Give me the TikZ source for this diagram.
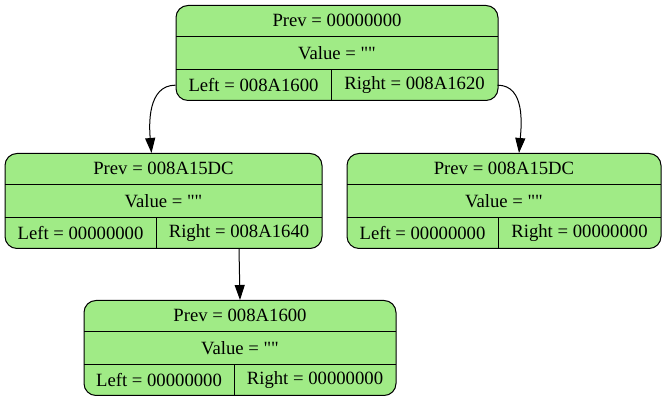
\documentclass[tikz,border=0pt]{standalone}
\usepackage{fontspec}
\setmainfont{Liberation Serif}[Ligatures=TeXOff]
\usepackage{tikz}
\usetikzlibrary{calc,arrows.meta}
\definecolor{recfill}{HTML}{A0EB86}
\definecolor{ink}{HTML}{000000}
\tikzset{
  rec/.style={draw=ink, fill=recfill, line width=1pt, rounded corners=12pt, minimum height=95pt, inner sep=0pt},
  cell/.style={inner sep=0pt, outer sep=0pt, minimum height=31.67pt, font=\fontsize{18.7}{22}\selectfont},
  sep/.style={draw=ink, line width=1pt},
  edge/.style={draw=ink, line width=1pt, -{Triangle[length=15pt, width=10pt]}},
}
% record: name, x, y, width, left cell width, prev, left, right
\newcommand{\record}[8]{%
  \node[rec, minimum width=#4] (#1) at (#2,#3) {};
  \node[cell, minimum width=#4, anchor=north] (#1-prev) at (#1.north) {Prev = #6};
  \node[cell, minimum width=#4] (#1-val) at (#1.center) {Value = ""};
  \node[cell, minimum width=#5, anchor=south west] (#1-left) at (#1.south west) {Left = #7};
  \node[cell, minimum width={#4-#5}, anchor=south west] (#1-right) at (#1-left.south east) {Right = #8};
  \draw[sep] (#1-prev.south west) -- (#1-prev.south east);
  \draw[sep] (#1-left.north west) -- (#1-right.north east);
  \draw[sep] (#1-left.north east) -- (#1-left.south east);
}

\begin{document}
\begin{tikzpicture}[x=1pt, y=1pt]
  \useasboundingbox (0,0) rectangle (666,403);
  \record{root}{337}{350}{322}{156}{00000000}{008A1600}{008A1620}
  \record{L}{163.5}{202}{317}{152}{008A15DC}{00000000}{008A1640}
  \record{R}{504}{202}{314}{152}{008A15DC}{00000000}{00000000}
  \record{LR}{240}{55}{312}{151}{008A1600}{00000000}{00000000}
  \draw[edge] (root-left.west) to[out=180, in=95] ([xshift=-12pt]L.north);
  \draw[edge] (root-right.east) to[out=0, in=85] ([xshift=15pt]R.north);
  \draw[edge] (L-right.south) -- (LR.north);
\end{tikzpicture}
\end{document}
